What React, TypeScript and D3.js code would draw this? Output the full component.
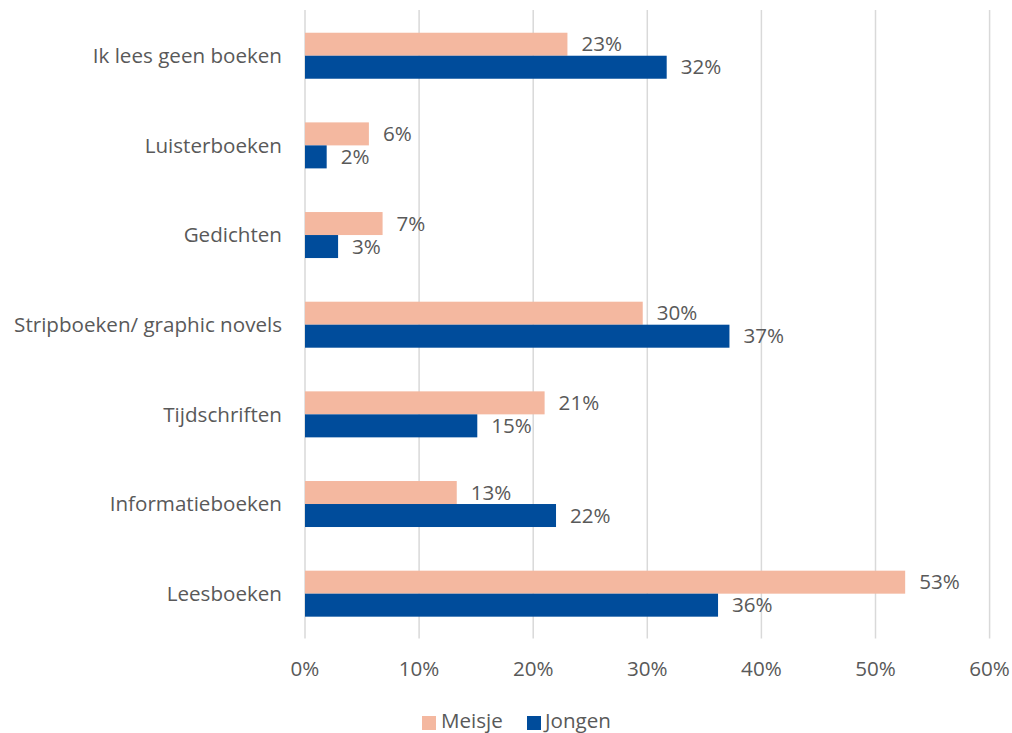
import React from "react";
import * as d3 from "d3";

const categories = [
  "Ik lees geen boeken",
  "Luisterboeken",
  "Gedichten",
  "Stripboeken/ graphic novels",
  "Tijdschriften",
  "Informatieboeken",
  "Leesboeken",
];
const meisjeValues = [23, 5.6, 6.8, 29.6, 21.0, 13.3, 52.6];
const jongenValues = [31.7, 1.9, 2.9, 37.2, 15.1, 22.0, 36.2];
const meisjeLabels = ["23%", "6%", "7%", "30%", "21%", "13%", "53%"];
const jongenLabels = ["32%", "2%", "3%", "37%", "15%", "22%", "36%"];
const xTicks = [0, 10, 20, 30, 40, 50, 60];
const seriesNames = ["Meisje", "Jongen"];

const W = 1012;
const H = 733;
const FONT = "'Open Sans', sans-serif";
const TEXT = "#595959";
const C_MEISJE = "#F4B8A0";
const C_JONGEN = "#004C9B";
const FS = 20.6;

export default function App() {
  const x = d3.scaleLinear().domain([0, 60]).range([305, 989.6]);
  const y = d3.scaleBand<string>().domain(categories).range([10.9, 638.5]);
  const barH = 23;

  return (
    <svg
      width={W}
      height={H}
      style={{ position: "absolute", left: 0, top: 0, background: "#fff" }}
      fontFamily={FONT}
    >
      {xTicks.map((t) => (
        <line
          key={"g" + t}
          x1={x(t)}
          x2={x(t)}
          y1={10}
          y2={638.5}
          stroke="#D9D9D9"
          strokeWidth={1.5}
        />
      ))}
      {categories.map((c, i) => {
        const cy = (y(c) as number) + y.bandwidth() / 2;
        return (
          <g key={c}>
            <rect
              x={x(0)}
              y={cy - barH}
              width={x(meisjeValues[i]) - x(0)}
              height={barH}
              fill={C_MEISJE}
            />
            <rect
              x={x(0)}
              y={cy}
              width={x(jongenValues[i]) - x(0)}
              height={barH}
              fill={C_JONGEN}
            />
            <text
              x={x(meisjeValues[i]) + 14}
              y={cy - barH / 2}
              dy="0.35em"
              fontSize={FS}
              fill={TEXT}
            >
              {meisjeLabels[i]}
            </text>
            <text
              x={x(jongenValues[i]) + 14}
              y={cy + barH / 2}
              dy="0.35em"
              fontSize={FS}
              fill={TEXT}
            >
              {jongenLabels[i]}
            </text>
            <text
              x={282}
              y={cy}
              dy="0.35em"
              textAnchor="end"
              fontSize={FS}
              fill={TEXT}
            >
              {c}
            </text>
          </g>
        );
      })}
      {xTicks.map((t) => (
        <text
          key={"t" + t}
          x={x(t)}
          y={669}
          dy="0.35em"
          textAnchor="middle"
          fontSize={FS}
          fill={TEXT}
        >
          {t + "%"}
        </text>
      ))}
      <rect x={422} y={716} width={14} height={14} fill={C_MEISJE} />
      <text x={441} y={721} dy="0.35em" fontSize={FS} fill={TEXT}>
        {seriesNames[0]}
      </text>
      <rect x={527} y={716} width={14} height={14} fill={C_JONGEN} />
      <text x={545} y={721} dy="0.35em" fontSize={FS} fill={TEXT}>
        {seriesNames[1]}
      </text>
    </svg>
  );
}
